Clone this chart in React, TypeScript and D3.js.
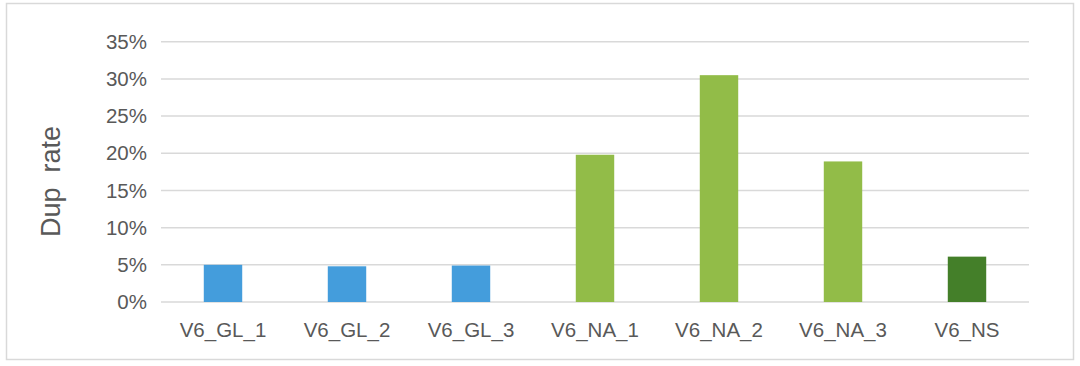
import React from 'react'
import * as d3 from 'd3'

const categories = ['V6_GL_1', 'V6_GL_2', 'V6_GL_3', 'V6_NA_1', 'V6_NA_2', 'V6_NA_3', 'V6_NS']
const dupRates = [0.05, 0.048, 0.049, 0.198, 0.305, 0.189, 0.061]
const barColors = ['#449ddc', '#449ddc', '#449ddc', '#92bc48', '#92bc48', '#92bc48', '#447f29']
const yTicks = [0, 0.05, 0.1, 0.15, 0.2, 0.25, 0.3, 0.35]

const W = 1080
const H = 366
const margin = { top: 41.7, right: 51, bottom: 64, left: 161 }
const font = '"Liberation Sans", Arial, Helvetica, sans-serif'
const textColor = '#595959'

export default function App() {
  const innerW = W - margin.left - margin.right
  const innerH = H - margin.top - margin.bottom

  const x = d3.scaleBand<string>().domain(categories).range([0, innerW]).paddingInner(0).paddingOuter(0)
  const y = d3.scaleLinear().domain([0, 0.35]).range([innerH, 0])
  const barW = x.bandwidth() * 0.31
  const fmt = d3.format('.0%')

  return (
    <svg
      width={W}
      height={H}
      style={{ position: 'absolute', left: 0, top: 0, background: '#fff' }}
      fontFamily={font}
    >
      <rect x={6.5} y={3.5} width={1067} height={356} fill="#fff" stroke="#d9d9d9" strokeWidth={1.5} />
      <g transform={`translate(${margin.left},${margin.top})`}>
        {yTicks.map((t) => (
          <g key={t}>
            <line x1={0} x2={innerW} y1={y(t)} y2={y(t)} stroke="#d9d9d9" strokeWidth={1.5} />
            <text x={-14} y={y(t)} dy="0.35em" textAnchor="end" fontSize={20.5} fill={textColor}>
              {fmt(t)}
            </text>
          </g>
        ))}
        {categories.map((c, i) => (
          <g key={c}>
            <rect
              x={(x(c) ?? 0) + (x.bandwidth() - barW) / 2}
              y={y(dupRates[i])}
              width={barW}
              height={innerH - y(dupRates[i])}
              fill={barColors[i]}
            />
            <text
              x={(x(c) ?? 0) + x.bandwidth() / 2}
              y={innerH + 35}
              textAnchor="middle"
              fontSize={20.5}
              fill={textColor}
            >
              {c}
            </text>
          </g>
        ))}
      </g>
      <text
        transform={`translate(60,${(3.5 + 359.5) / 2}) rotate(-90)`}
        textAnchor="middle"
        fontSize={27}
        fill={textColor}
        style={{ whiteSpace: 'pre' }}
      >
        {'Dup  rate'}
      </text>
    </svg>
  )
}
